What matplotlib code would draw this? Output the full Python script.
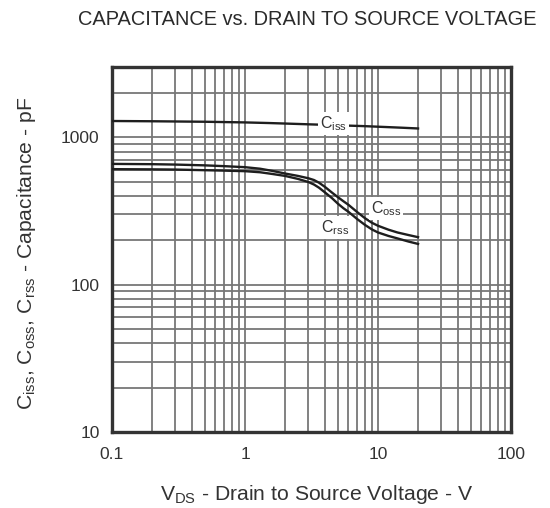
import matplotlib
matplotlib.use("Agg")
import matplotlib.pyplot as plt
from matplotlib.ticker import FixedLocator, LogLocator, NullFormatter, FixedFormatter

plt.rcParams['font.family'] = ['Liberation Sans', 'DejaVu Sans']
plt.rcParams['mathtext.fontset'] = 'custom'
plt.rcParams['mathtext.rm'] = 'Liberation Sans'

# Data
vds_ciss = [0.1, 0.2, 0.5, 1, 1.5, 2, 3, 4, 5, 6, 7, 8, 10, 12, 15, 20]
ciss = [1290, 1285, 1275, 1262, 1250, 1240, 1225, 1215, 1208, 1200, 1195, 1190, 1180, 1172, 1162, 1148]

vds = [0.1, 0.2, 0.3, 0.5, 0.7, 1, 1.3, 1.6, 2, 2.5, 3, 3.3, 3.6, 4, 4.5, 5, 5.5, 6, 7, 8, 9, 10, 12, 14, 17, 20]
coss = [660, 657, 653, 645, 637, 627, 612, 592, 568, 547, 527, 513, 492, 460, 422, 392, 368, 348, 310, 282, 263, 251, 236, 226, 217, 210]
crss = [608, 606, 604, 598, 594, 589, 579, 564, 547, 522, 497, 478, 455, 422, 387, 354, 330, 312, 278, 254, 237, 226, 214, 206, 196, 189]

xticks = [0.1, 1, 10, 100]
xticklabels = ["0.1", "1", "10", "100"]
yticks = [10, 100, 1000]
yticklabels = ["10", "100", "1000"]

W, H = 550, 508
fig = plt.figure(figsize=(W / 100, H / 100), dpi=100)
left, right, top, bottom = 112, 511, 67, 432
ax = fig.add_axes([left / W, 1 - bottom / H, (right - left) / W, (bottom - top) / H])

ax.set_xscale('log')
ax.set_yscale('log')
ax.set_xlim(0.1, 100)
ax.set_ylim(10, 3000)

ax.xaxis.set_major_locator(FixedLocator(xticks))
ax.xaxis.set_major_formatter(FixedFormatter(xticklabels))
ax.yaxis.set_major_locator(FixedLocator(yticks))
ax.yaxis.set_major_formatter(FixedFormatter(yticklabels))
ax.xaxis.set_minor_locator(LogLocator(base=10, subs=range(2, 10)))
ax.yaxis.set_minor_locator(LogLocator(base=10, subs=range(2, 10)))
ax.xaxis.set_minor_formatter(NullFormatter())
ax.yaxis.set_minor_formatter(NullFormatter())

ax.grid(True, which='both', color='#777777', lw=1.3)
ax.tick_params(which='both', length=0, labelsize=12.5, colors='#333333')
ax.tick_params(axis='x', pad=11)
ax.tick_params(axis='y', pad=9)
for s in ax.spines.values():
    s.set_linewidth(2.4)
    s.set_color('#333333')

lc = '#1e1e1e'
ax.plot(vds_ciss, ciss, color=lc, lw=1.7, zorder=3)
ax.plot(vds, coss, color=lc, lw=1.7, zorder=3)
ax.plot(vds, crss, color=lc, lw=1.7, zorder=3)

box = dict(facecolor='white', edgecolor='none', pad=1.5)
lbl = dict(fontsize=11.5, ha='center', va='center', bbox=box, zorder=4, color='#333333')
ax.text(4.6, 1245, r"C$_{\mathregular{iss}}$", **lbl)
ax.text(11.5, 327, r"C$_{\mathregular{oss}}$", **lbl)
ax.text(4.75, 243, r"C$_{\mathregular{rss}}$", **lbl)

fig.text(307 / W, 1 - 25 / H, "CAPACITANCE vs. DRAIN TO SOURCE VOLTAGE", fontsize=14.4,
         color='#2a2a2a', ha='center', va='baseline')
fig.text(317 / W, 1 - 500 / H, r"V$_{\mathregular{DS}}$ - Drain to Source Voltage - V", fontsize=15.2,
         color='#333333', ha='center', va='baseline')
fig.text(27 / W, 1 - 253 / H,
         r"C$_{\mathregular{iss}}$, C$_{\mathregular{oss}}$, C$_{\mathregular{rss}}$ - Capacitance - pF",
         fontsize=15.2, color='#333333', ha='center', va='center', rotation=90)

fig.savefig("out.png", dpi=100)
